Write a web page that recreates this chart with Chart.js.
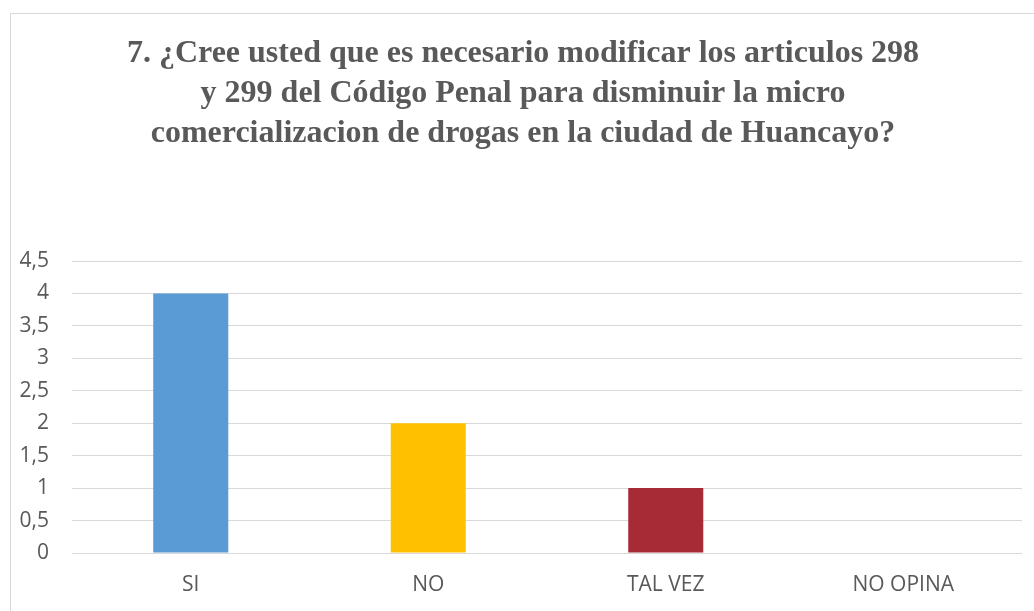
<!DOCTYPE html>
<html>
<head>
<meta charset="utf-8">
<script src="https://cdn.jsdelivr.net/npm/chart.js@4"></script>
<style>
    body { margin: 0; background: #ffffff; overflow: hidden; }
    #frame { position: absolute; left: 10px; top: 13px; width: 1023px; height: 597px; border-left: 1px solid #d9d9d9; border-top: 1px solid #d9d9d9; }
    #chart { position: absolute; left: 0; top: 0; }
</style>
</head>
<body>
<div id="frame"></div>
<canvas id="chart" width="1034" height="611"></canvas>
<script>
// DATA
const categories = ["SI", "NO", "TAL VEZ", "NO OPINA"];
const values = [4, 2, 1, 0];
const barColors = ["#5B9BD5", "#FFC000", "#A62B37", "#7F7F7F"];
const titleLines = [
    "7. ¿Cree usted que es necesario modificar los articulos 298",
    "y 299 del Código Penal para disminuir la micro",
    "comercializacion de drogas en la ciudad de Huancayo?"
];

// nudge the title a bit right, like in the original sheet
const titleShift = {
    id: "titleShift",
    afterLayout(chart) {
        const t = chart.titleBlock;
        if (!t) return;
        t.left += 12;
        t.right += 12;
    },
};

// CHART
const ctx = document.getElementById("chart").getContext("2d");
new Chart(ctx, {
    type: "bar",
    data: {
        labels: categories,
        datasets: [
            {
                data: values,
                backgroundColor: barColors,
                borderWidth: 0,
                barPercentage: 0.316,
                categoryPercentage: 1,
            },
        ],
    },
    options: {
        responsive: false,
        animation: false,
        layout: { padding: { left: 0, right: 12, top: 0, bottom: 0 } },
        plugins: {
            legend: { display: false },
            tooltip: { enabled: false },
            title: {
                display: true,
                text: titleLines,
                color: "#595959",
                font: { family: "'Liberation Serif', 'Times New Roman', serif", size: 32, weight: "bold", lineHeight: 1.25 },
                padding: { top: 34, bottom: 107 },
            },
        },
        scales: {
            x: {
                afterFit: (s) => { s.height = 58; },
                grid: { display: false, drawTicks: false, tickLength: 0 },
                border: { display: false },
                ticks: { color: "#595959", font: { family: "'Open Sans', sans-serif", size: 21 }, padding: 19 },
            },
            y: {
                min: 0,
                max: 4.5,
                afterFit: (s) => { s.width = 72; },
                grid: { color: "#d9d9d9", lineWidth: 1, drawTicks: false },
                border: { display: false },
                ticks: {
                    stepSize: 0.5,
                    padding: 23,
                    color: "#595959",
                    font: { family: "'Open Sans', sans-serif", size: 21 },
                    callback: (v) => String(v).replace(".", ","),
                },
            },
        },
    },
    plugins: [titleShift],
});
</script>
</body>
</html>
